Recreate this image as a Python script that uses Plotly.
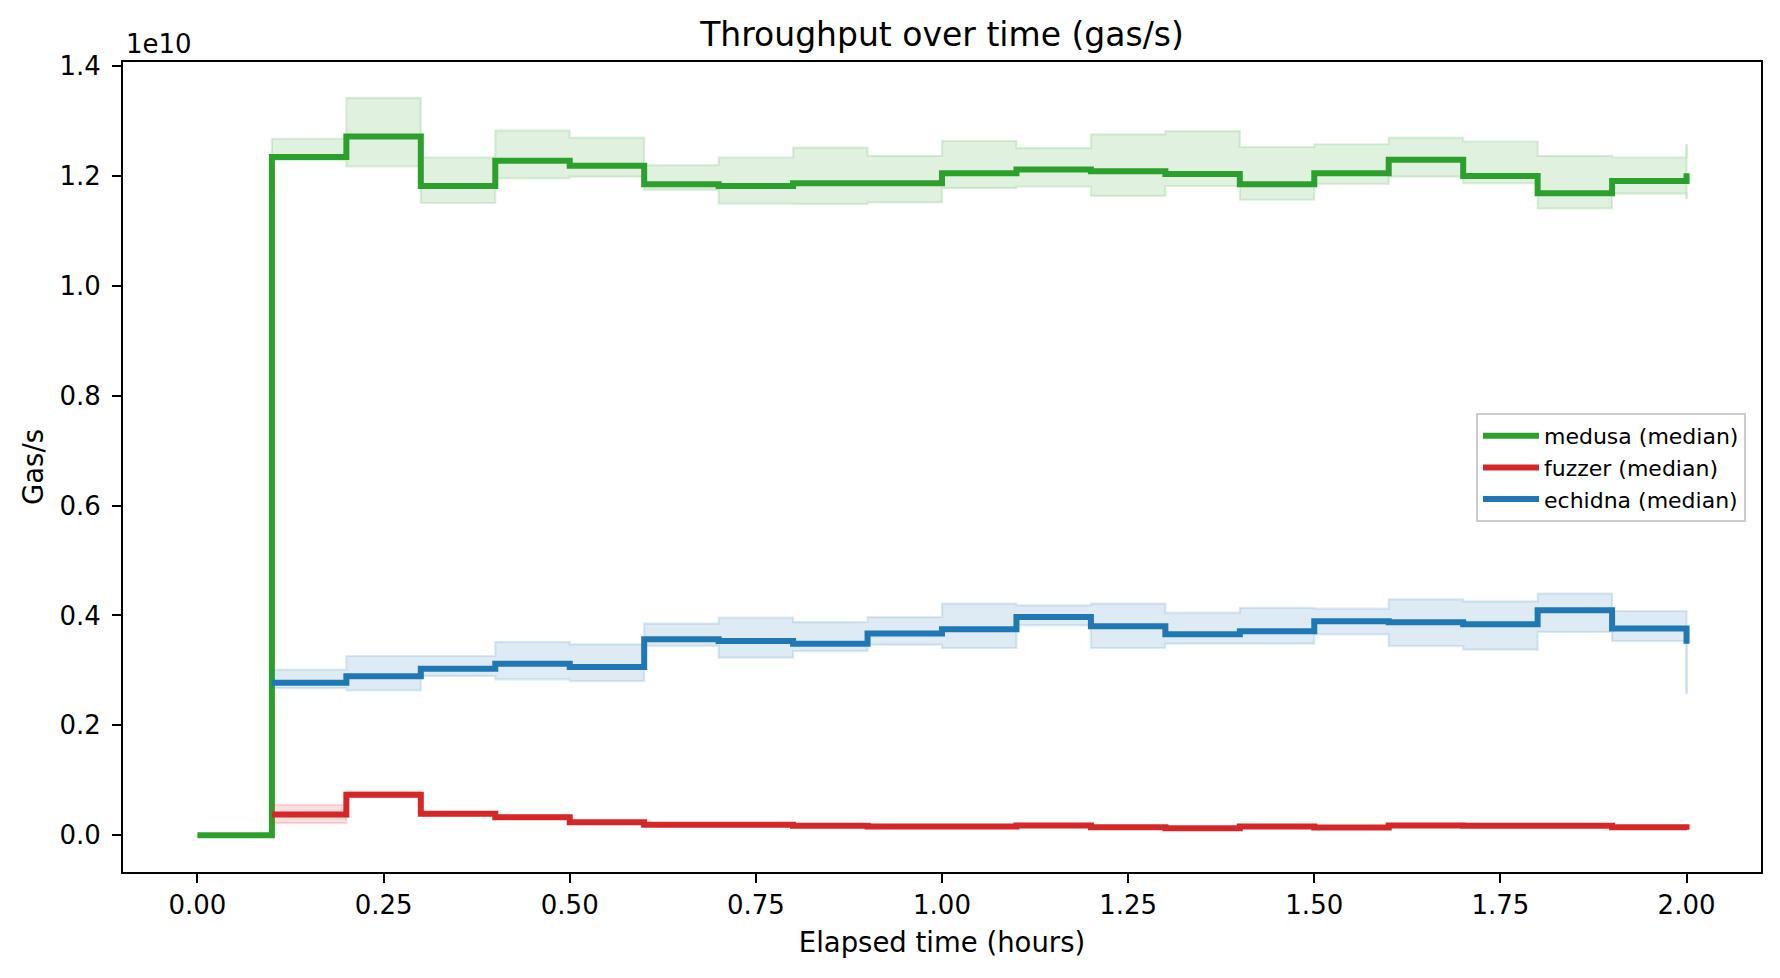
import plotly.graph_objects as go

# ---------------- data (values in units of 1e10 gas/s) ----------------
time_medusa = [0.0, 0.1, 0.2, 0.3, 0.4, 0.5, 0.6, 0.7, 0.8, 0.9, 1.0,
               1.1, 1.2, 1.3, 1.4, 1.5, 1.6, 1.7, 1.8, 1.9, 2.0]
medusa_median = [0.0, 1.2346, 1.272, 1.182, 1.228, 1.219, 1.185, 1.182, 1.187, 1.187, 1.205,
                 1.212, 1.209, 1.204, 1.185, 1.205, 1.230, 1.200, 1.169, 1.191, 1.205]
medusa_upper = [0.0, 1.268, 1.342, 1.234, 1.283, 1.270, 1.220, 1.234, 1.252, 1.237, 1.264,
                1.251, 1.276, 1.282, 1.253, 1.258, 1.270, 1.263, 1.237, 1.234, 1.258]
medusa_lower = [0.0, 1.229, 1.2175, 1.151, 1.196, 1.199, 1.175, 1.150, 1.149, 1.152, 1.178,
                1.181, 1.164, 1.182, 1.157, 1.186, 1.199, 1.187, 1.141, 1.168, 1.159]

time_other = [0.1, 0.2, 0.3, 0.4, 0.5, 0.6, 0.7, 0.8, 0.9, 1.0,
              1.1, 1.2, 1.3, 1.4, 1.5, 1.6, 1.7, 1.8, 1.9, 2.0]
fuzzer_median = [0.0377, 0.0736, 0.0390, 0.0328, 0.0237, 0.0192, 0.0189, 0.0171, 0.0158, 0.0158,
                 0.0177, 0.0146, 0.0128, 0.0158, 0.0140, 0.0177, 0.0171, 0.0171, 0.0146, 0.0098]
fuzzer_upper = [0.0554, 0.0790, 0.0420, 0.0350, 0.0255, 0.0205, 0.0200, 0.0185, 0.0170, 0.0170,
                0.0190, 0.0160, 0.0140, 0.0170, 0.0152, 0.0190, 0.0183, 0.0183, 0.0160, 0.0110]
fuzzer_lower = [0.0219, 0.0690, 0.0360, 0.0305, 0.0220, 0.0180, 0.0178, 0.0160, 0.0146, 0.0146,
                0.0165, 0.0133, 0.0116, 0.0146, 0.0128, 0.0165, 0.0159, 0.0159, 0.0133, 0.0085]

echidna_median = [0.2777, 0.2892, 0.3032, 0.3123, 0.3061, 0.3566, 0.3535, 0.3487, 0.3670, 0.3748,
                  0.3972, 0.3803, 0.3657, 0.3712, 0.3894, 0.3876, 0.3839, 0.4095, 0.3761, 0.3487]
echidna_upper = [0.3014, 0.3262, 0.3262, 0.3517, 0.3475, 0.3852, 0.3961, 0.3881, 0.3972, 0.4217,
                 0.4186, 0.4217, 0.4052, 0.4137, 0.4125, 0.4295, 0.4258, 0.4399, 0.4082, 0.4000]
echidna_lower = [0.2679, 0.2637, 0.2898, 0.2837, 0.2806, 0.3448, 0.3232, 0.3353, 0.3469, 0.3408,
                 0.3821, 0.3408, 0.3487, 0.3487, 0.3657, 0.3444, 0.3378, 0.3700, 0.3535, 0.2577]

x_ticks = [0.0, 0.25, 0.5, 0.75, 1.0, 1.25, 1.5, 1.75, 2.0]
y_ticks = [0.0, 0.2, 0.4, 0.6, 0.8, 1.0, 1.2, 1.4]

series = [
    ("medusa (median)", time_medusa, medusa_median, medusa_lower, medusa_upper, (44, 160, 44)),
    ("fuzzer (median)", time_other, fuzzer_median, fuzzer_lower, fuzzer_upper, (214, 39, 40)),
    ("echidna (median)", time_other, echidna_median, echidna_lower, echidna_upper, (31, 119, 180)),
]

FONT = "DejaVu Sans"
fig = go.Figure()

for name, t, med, lo, hi, (r, g, b) in series:
    band_fill = f"rgba({r},{g},{b},0.15)"
    band_edge = f"rgba({r},{g},{b},0.15)"
    fig.add_trace(go.Scatter(x=t, y=hi, mode="lines", line=dict(shape="hv", color=band_edge, width=2.2),
                             showlegend=False, hoverinfo="skip"))
    fig.add_trace(go.Scatter(x=t, y=lo, mode="lines", line=dict(shape="hv", color=band_edge, width=2.2),
                             fill="tonexty", fillcolor=band_fill, showlegend=False, hoverinfo="skip"))
    # closing edge of the band at the last time point
    fig.add_trace(go.Scatter(x=[t[-1], t[-1]], y=[lo[-1], hi[-1]], mode="lines",
                             line=dict(color=band_edge, width=2.2), showlegend=False, hoverinfo="skip"))
    fig.add_trace(go.Scatter(x=t, y=med, mode="lines", name=name,
                             line=dict(shape="hv", color=f"rgb({r},{g},{b})", width=6)))

axis_common = dict(
    showgrid=False, zeroline=False, showline=True, linecolor="black", linewidth=2,
    mirror=True, ticks="outside", ticklen=9, tickwidth=2, tickcolor="black",
    tickfont=dict(family=FONT, size=26, color="black"),
)

fig.update_layout(
    width=1780, height=978,
    margin=dict(l=123, r=19, t=62, b=106),
    paper_bgcolor="white", plot_bgcolor="white",
    font=dict(family=FONT, color="black"),
    title=dict(text="Throughput over time (gas/s)", x=942 / 1780, xanchor="center",
               y=1 - 34 / 978, yanchor="middle", font=dict(family=FONT, size=33, color="black")),
    xaxis=dict(range=[-0.1, 2.1], tickvals=x_ticks, tickformat=".2f",
               title=dict(text="Elapsed time (hours)", font=dict(family=FONT, size=27.5), standoff=14),
               **axis_common),
    yaxis=dict(range=[-0.06704, 1.40777], tickvals=y_ticks, tickformat=".1f",
               ticklabelstandoff=6,
               title=dict(text="Gas/s", font=dict(family=FONT, size=27.5), standoff=8),
               **axis_common),
    legend=dict(x=(1476 - 123) / 1638, y=(872 - 413) / 810, xanchor="left", yanchor="top",
                bgcolor="rgba(255,255,255,0.8)", bordercolor="#cccccc", borderwidth=2,
                font=dict(family=FONT, size=22, color="black"), itemwidth=56,
                traceorder="normal", tracegroupgap=0),
    annotations=[dict(text="1e10", xref="paper", yref="paper", x=0.0005, y=(872 - 44) / 810,
                      xanchor="left", yanchor="middle", showarrow=False,
                      font=dict(family=FONT, size=26, color="black"))],
    showlegend=True,
)

fig.write_html("out.html")
